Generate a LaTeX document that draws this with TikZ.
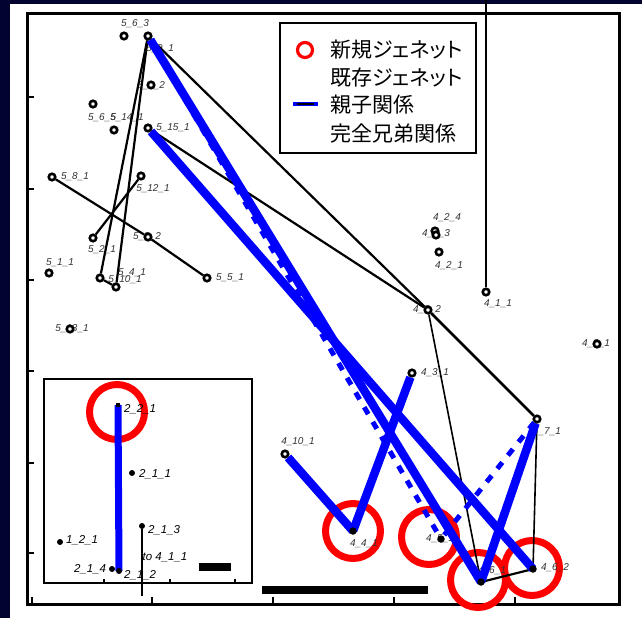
\documentclass[tikz,border=0pt]{standalone}
\usepackage{fontspec}
\setmainfont{Liberation Sans}
\newfontfamily\jpfont[RawFeature=+palt]{Noto Sans CJK JP}
\usetikzlibrary{positioning}
\definecolor{navybg}{HTML}{03032F}
\definecolor{labelgray}{HTML}{333333}
\definecolor{parentblue}{HTML}{0000FF}
\definecolor{newred}{HTML}{FF0000}

\begin{document}
\begin{tikzpicture}[
    x=1pt, y=-1pt,
    genet/.style={circle, draw=black, line width=2.6pt, fill=white, minimum size=6.5pt, inner sep=0pt},
    newgenet/.style={circle, fill=black, minimum size=7.5pt, inner sep=0pt},
    smalldot/.style={circle, fill=black, minimum size=6pt, inner sep=0pt},
    newring/.style={circle, draw=newred, line width=7pt, minimum size=55pt, inner sep=0pt},
    tag/.style={font=\fontsize{10}{10}\selectfont\itshape, text=labelgray, inner sep=0pt},
    insettag/.style={font=\fontsize{11.5}{12}\selectfont\itshape, inner sep=0pt},
    link/.style={black, line width=2.2pt},
    thinlink/.style={black, line width=1.6pt},
    parent/.style={parentblue, line width=8.5pt},
    sibling/.style={parentblue, line width=5pt, dash pattern=on 8pt off 9pt},
    legendtext/.style={font=\jpfont\fontsize{21}{27}\selectfont, anchor=west, inner sep=0pt},
]

    % --- Background and frame ---
    \fill[navybg] (0,0) rectangle (642,618);
    \fill[white] (10,4) rectangle (642,618);
    \useasboundingbox (0,0) rectangle (642,618);
    \draw[line width=3pt] (27,14) rectangle (619,604);
    \draw[line width=2pt] (27,97) -- (34,97) (27,189) -- (34,189) (27,280) -- (34,280)
        (27,371) -- (34,371) (27,463) -- (34,463) (27,553) -- (34,553);
    \draw[line width=2pt] (32,604) -- (32,597) (152,604) -- (152,597) (273,604) -- (273,597)
        (394,604) -- (394,597) (515,604) -- (515,597);

    % --- Inset box ---
    \draw[line width=2pt, fill=white] (44,379) rectangle (252,583);
    \draw[line width=1.5pt] (104,583) -- (104,579) (170,583) -- (170,579) (235,583) -- (235,579);

    % --- New genet rings ---
    \node[newring] (r221) at (117,412) {};
    \node[newring] (r441) at (353,531) {};
    \node[newring] (r451) at (429,537) {};
    \node[newring] (r461) at (478,580) {};
    \node[newring] (r462) at (532,568) {};

    % --- Labels ---
    \node[tag] (t563) at (135,24) {5\_6\_3};
    \node[tag] (t591) at (160,49) {5\_9\_1};
    \node[tag] (t562) at (151,86) {5\_6\_2};
    \node[tag] (t565) at (102,118) {5\_6\_5};
    \node[tag] (t5141) at (127,118) {5\_14\_1};
    \node[tag] (t5151) at (173,128) {5\_15\_1};
    \node[tag] (t581) at (75,177) {5\_8\_1};
    \node[tag] (t5121) at (153,189) {5\_12\_1};
    \node[tag] (t552) at (147,237) {5\_5\_2};
    \node[tag] (t521) at (102,250) {5\_2\_1};
    \node[tag] (t511) at (60,263) {5\_1\_1};
    \node[tag] (t541) at (132,273) {5\_4\_1};
    \node[tag] (t5101) at (125,280) {5\_10\_1};
    \node[tag] (t551) at (230,278) {5\_5\_1};
    \node[tag] (t5131) at (72,329) {5\_13\_1};
    \node[tag] (t424) at (447,218) {4\_2\_4};
    \node[tag] (t423) at (436,234) {4\_2\_3};
    \node[tag] (t421) at (449,266) {4\_2\_1};
    \node[tag] (t411) at (498,304) {4\_1\_1};
    \node[tag] (t452) at (427,310) {4\_5\_2};
    \node[tag] (t481) at (596,344) {4\_8\_1};
    \node[tag] (t431) at (435,373) {4\_3\_1};
    \node[tag] (t471) at (547,432) {4\_7\_1};
    \node[tag] (t4101) at (298,442) {4\_10\_1};
    \node[tag] (t441) at (364,544) {4\_4\_1};
    \node[tag] (t451) at (440,539) {4\_5\_1};
    \node[tag] (t461) at (492,571) {4\_6\_1};
    \node[tag] (t462) at (555,568) {4\_6\_2};

    \node[insettag] (t221) at (140,409) {2\_2\_1};
    \node[insettag] (t211) at (155,474) {2\_1\_1};
    \node[insettag] (t213) at (164,530) {2\_1\_3};
    \node[insettag] (t121) at (82,540) {1\_2\_1};
    \node[insettag] (tto) at (165,557) {to 4\_1\_1};
    \node[insettag] (t214) at (90,569) {2\_1\_4};
    \node[insettag] (t212) at (140,575) {2\_1\_2};

    % --- Existing genets ---
    \node[genet] (g563) at (124,36) {};
    \node[genet] (g591) at (148,36) {};
    \node[genet] (g562) at (151,85) {};
    \node[genet] (g565) at (93,104) {};
    \node[genet] (g5141) at (114,130) {};
    \node[genet] (g5151) at (148,128) {};
    \node[genet] (g581) at (52,177) {};
    \node[genet] (g5121) at (141,176) {};
    \node[genet] (g552) at (148,237) {};
    \node[genet] (g521) at (93,238) {};
    \node[genet] (g511) at (49,273) {};
    \node[genet] (g5101) at (100,278) {};
    \node[genet] (g541) at (116,287) {};
    \node[genet] (g551) at (207,278) {};
    \node[genet] (g5131) at (70,329) {};
    \node[genet] (g424) at (435,231) {};
    \node[genet] (g423) at (436,235) {};
    \node[genet] (g421) at (439,252) {};
    \node[genet] (g411) at (486,292) {};
    \node[genet] (g452) at (428,310) {};
    \node[genet] (g481) at (597,344) {};
    \node[genet] (g431) at (412,373) {};
    \node[genet] (g471) at (537,419) {};
    \node[genet] (g4101) at (285,454) {};

    % new genets and free ends
    \coordinate (p441) at (353,531);
    \coordinate (p451) at (441,539);
    \coordinate (p461) at (481,582);
    \coordinate (p462) at (533,569);
    \coordinate (p221) at (118,405);
    \coordinate (p212) at (119,571);
    \coordinate (topend) at (486,0);
    \coordinate (to411) at (142,596);

    % --- Black links ---
    \draw[link] (g591) -- (g5101);
    \draw[link] (g591) -- (g541);
    \draw[link] (g5101) -- (g541);
    \draw[link] (g581) -- (g552);
    \draw[link] (g552) -- (g551);
    \draw[link] (g5121) -- (g521);
    \draw[link] (g591) -- (g452);
    \draw[link] (g5151) -- (g452);
    \draw[link, line width=2.6pt] (g452) -- (g471);
    \draw[thinlink] (g452) -- (p461);
    \draw[thinlink] (g471) -- (p462);
    \draw[link] (p461) -- (p462);
    \draw[link, line width=2.6pt] (topend) -- (g411);

    % --- Full sibling links ---
    \draw[sibling] (g591) -- (p451);
    \draw[sibling] (g471) -- (p451);

    % --- Parent links ---
    \draw[parent] (g591) -- (p461);
    \draw[parent] (g5151) -- (p462);
    \draw[parent] (g4101) -- (p441);
    \draw[parent] (p441) -- (g431);
    \draw[parent] (p461) -- (g471);
    \draw[parent, line width=7pt] (p221) -- (p212);

    % --- New genet dots ---
    \node[newgenet] (n441) at (p441) {};
    \node[newgenet] (n451) at (p451) {};
    \node[newgenet] (n461) at (p461) {};
    \node[newgenet] (n462) at (p462) {};
    \node[fill=black, minimum size=4.5pt, inner sep=0pt] (n221) at (p221) {};
    \node[smalldot] (n211) at (132,473) {};
    \node[smalldot] (n213) at (142,526) {};
    \node[smalldot] (n121) at (60,542) {};
    \node[smalldot] (n214) at (112,569) {};
    \node[smalldot] (n212) at (p212) {};
    \draw[link] (n213) -- (to411);

    % --- Scale bars ---
    \fill (262,586) rectangle (428,594);
    \fill (199,563) rectangle (231,571);

    % --- Legend ---
    \draw[line width=2pt, fill=white] (280,23) rectangle (476,153);
    \node[circle, draw=newred, line width=3.2pt, minimum size=15pt, inner sep=0pt] (legnew) at (305,50) {};
    \draw[parent, line width=4pt] (293,104) -- (318,104);
    \draw[black, line width=2.5pt] (297,104) -- (314,104);
    \node[legendtext] (leg1) at (330,50) {新規ジェネット};
    \node[legendtext] (leg2) at (330,78) {既存ジェネット};
    \node[legendtext] (leg3) at (330,105) {親子関係};
    \node[legendtext] (leg4) at (330,134) {完全兄弟関係};

\end{tikzpicture}
\end{document}
